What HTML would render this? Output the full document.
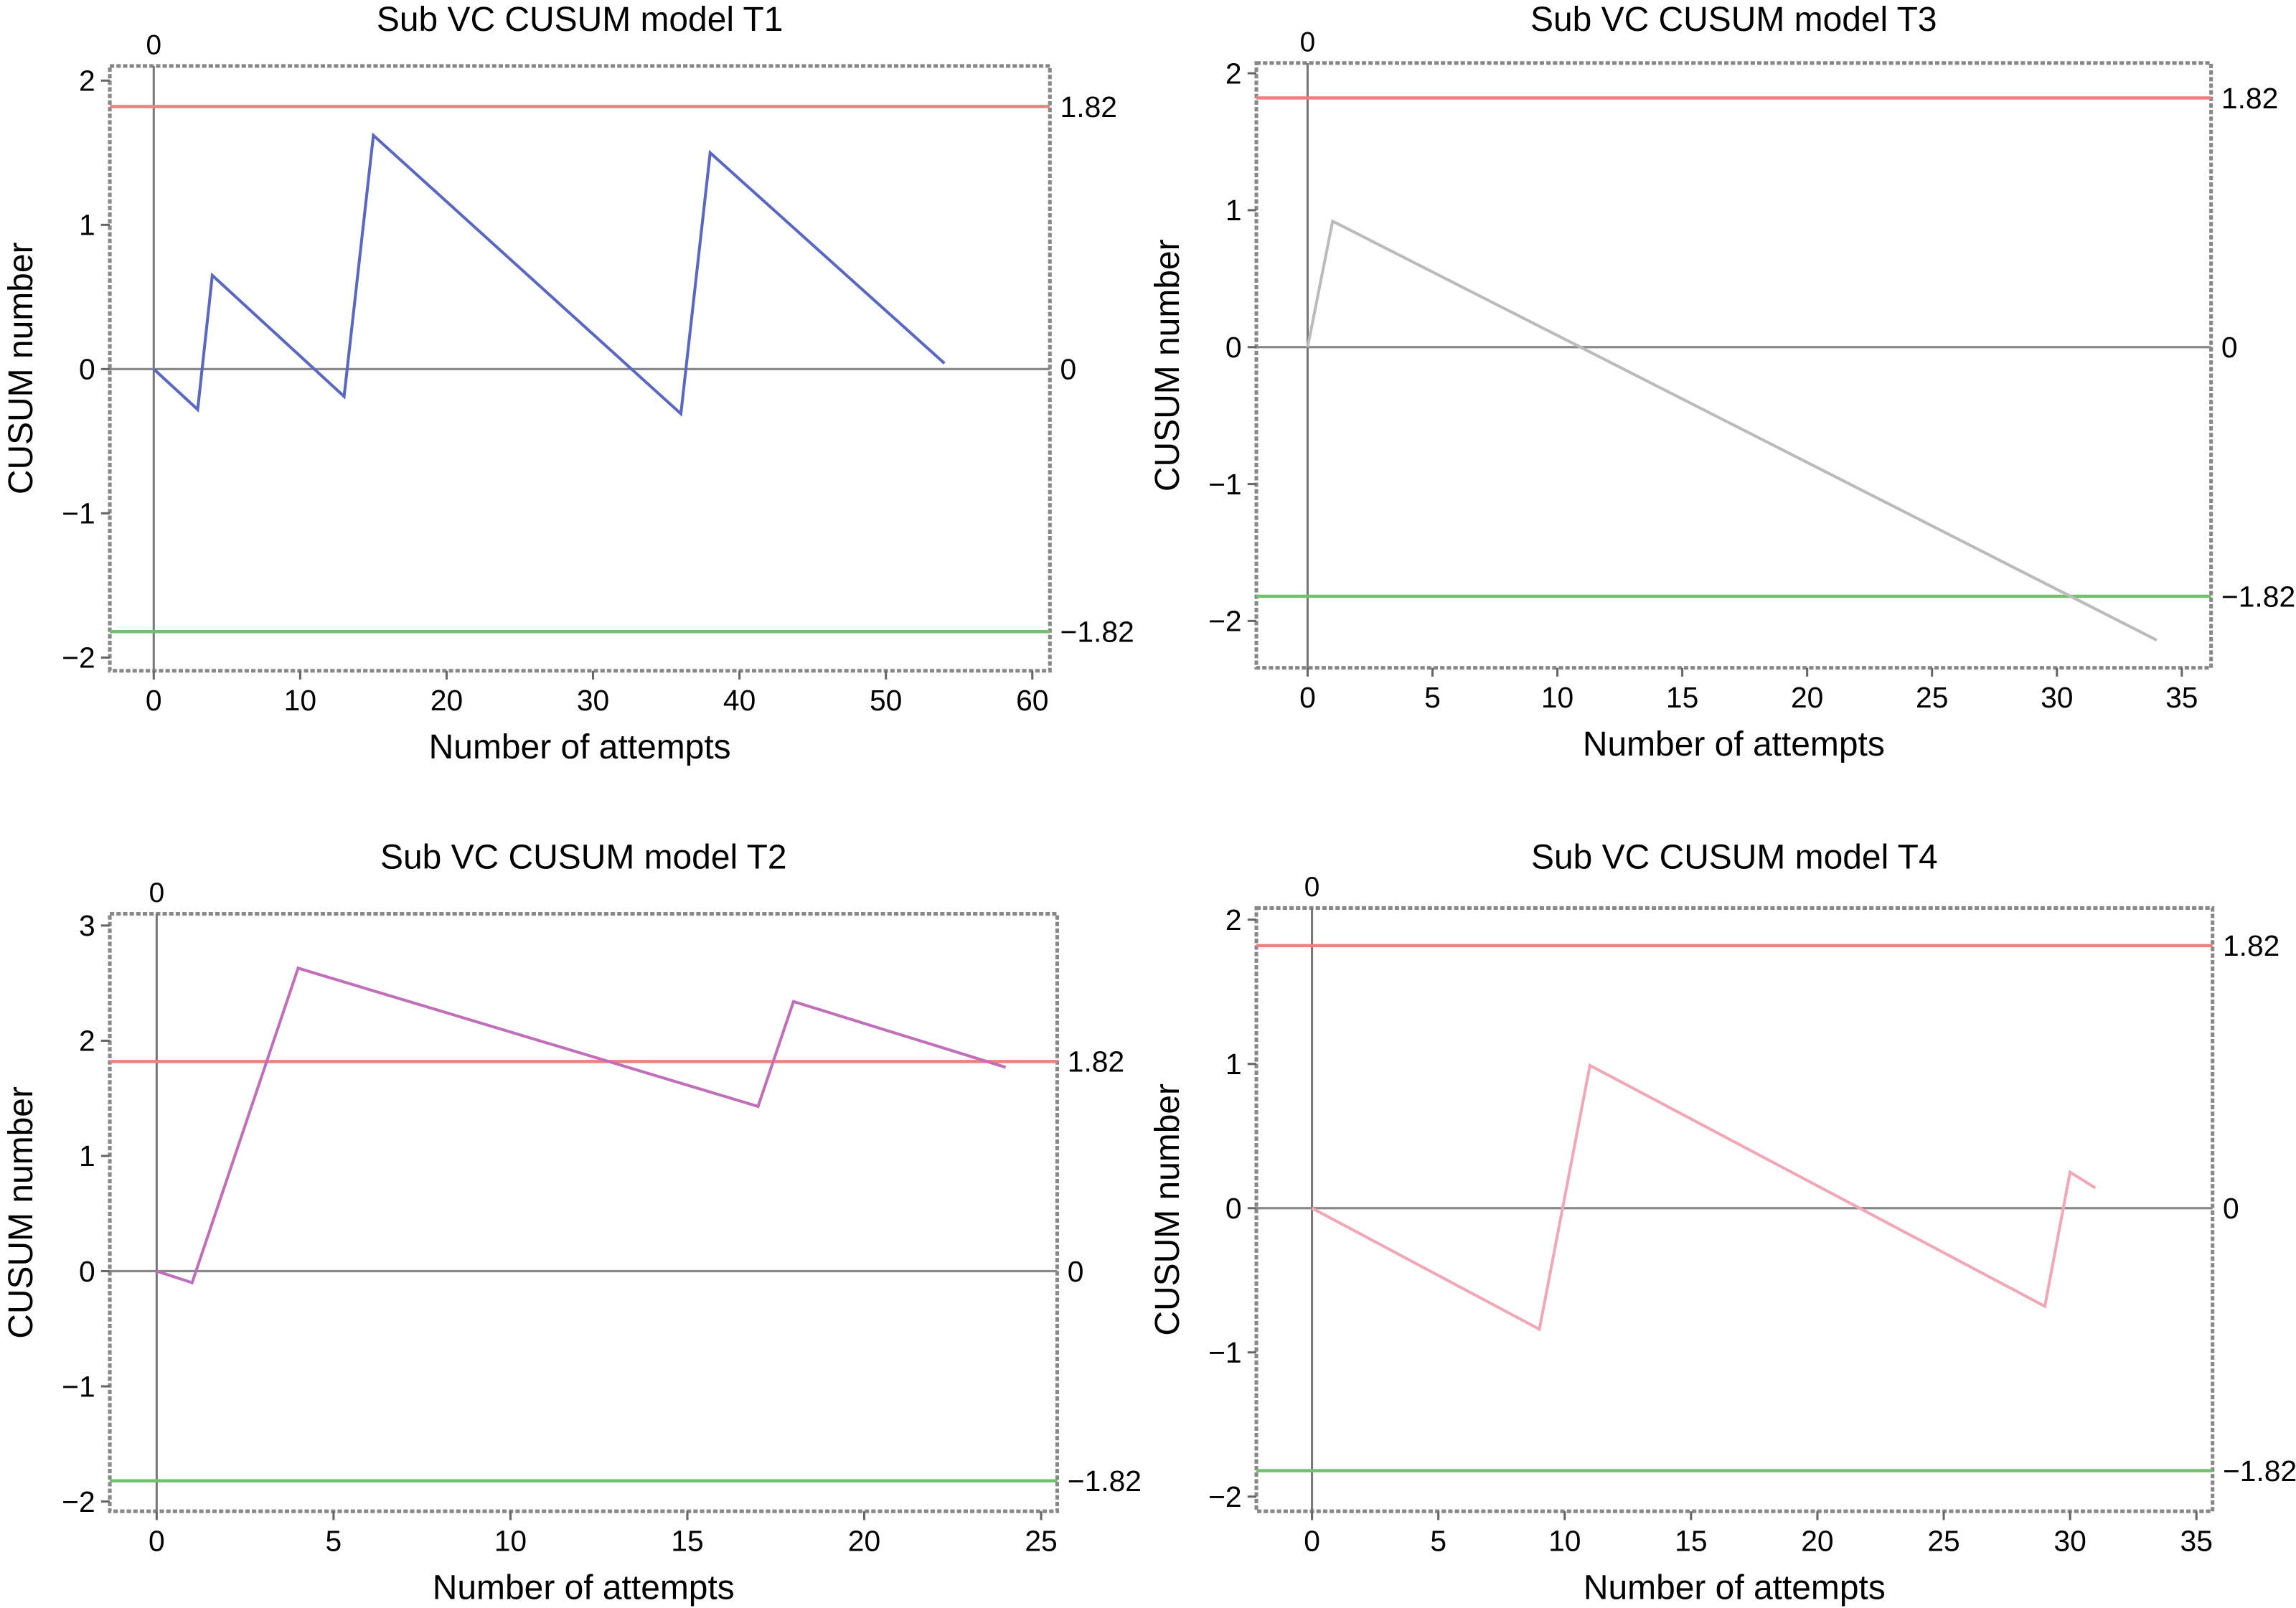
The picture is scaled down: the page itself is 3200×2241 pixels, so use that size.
<!DOCTYPE html>
<html><head><meta charset="utf-8"><style>
html,body{margin:0;padding:0;background:#fff;}
svg{display:block;}
text{font-family:"Liberation Sans",sans-serif;fill:#000;}
</style></head><body>
<svg id="root" width="3200" height="2241" viewBox="0 0 1568 1098" xmlns="http://www.w3.org/2000/svg"></svg>
<script>
// T1 data
const t1X = [0, 3, 4, 13, 15, 36, 38, 54];
const t1Y = [0, -0.28, 0.65, -0.19, 1.62, -0.31, 1.5, 0.04];
const t1XTicks = [0, 10, 20, 30, 40, 50, 60];
const t1YTicks = [-2, -1, 0, 1, 2];
// T3 data
const t3X = [0, 1, 34];
const t3Y = [0, 0.92, -2.14];
const t3XTicks = [0, 5, 10, 15, 20, 25, 30, 35];
const t3YTicks = [-2, -1, 0, 1, 2];
// T2 data
const t2X = [0, 1, 4, 17, 18, 24];
const t2Y = [0, -0.1, 2.63, 1.43, 2.34, 1.77];
const t2XTicks = [0, 5, 10, 15, 20, 25];
const t2YTicks = [-2, -1, 0, 1, 2, 3];
// T4 data
const t4X = [0, 9, 11, 29, 30, 31];
const t4Y = [0, -0.84, 0.99, -0.68, 0.25, 0.14];
const t4XTicks = [0, 5, 10, 15, 20, 25, 30, 35];
const t4YTicks = [-2, -1, 0, 1, 2];
const limitValues = [1.82, 0, -1.82];
const limitLabels = ["1.82", "0", "\u22121.82"];

const NS = "http://www.w3.org/2000/svg";
const root = document.getElementById('root');
function mk(tag, attrs, parent, txt) {
  const e = document.createElementNS(NS, tag);
  for (const k in attrs) e.setAttribute(k, attrs[k]);
  if (txt !== undefined) e.textContent = txt;
  parent.appendChild(e);
  return e;
}
function fmt(v){ return v < 0 ? "\u2212" + Math.abs(v) : String(v); }

function panel(cfg) {
  const g = mk('g', {}, root);
  
  
  const sx = v => cfg.x0 + (v - cfg.xa) / (cfg.xb - cfg.xa) * (cfg.x1 - cfg.x0);
  const sy = v => cfg.y0 + (v - cfg.ya) / (cfg.yb - cfg.ya) * (cfg.y1 - cfg.y0);
  const B = cfg.box;
  const frame = mk('rect', {x: B[0], y: B[1], width: B[2]-B[0], height: B[3]-B[1], fill: 'none', stroke: '#888', 'stroke-width': 2.5, 'stroke-dasharray': '3 1.5'}, g);
  
  
  const title = mk('text', {x: (B[0]+B[2])/2, y: cfg.ty, 'text-anchor': 'middle', 'font-size': 23.5}, g, cfg.title);
  
  
  const zl = mk('text', {x: sx(0), y: B[1]-8, 'text-anchor': 'middle', 'font-size': 19}, g, '0');
  
  
  const vz = mk('line', {x1: sx(0), x2: sx(0), y1: B[1], y2: B[3], stroke: '#777', 'stroke-width': 1.5}, g);
  
  
  const cols = ['#f08080', '#888', '#70c070'];
  limitValues.forEach((v, i) => {
    const l = mk('line', {x1: B[0], x2: B[2], y1: sy(v), y2: sy(v), stroke: cols[i], 'stroke-width': i===1?1.6:2.2}, g);
    
    
    const t = mk('text', {x: B[2]+7, y: sy(v)+7, 'font-size': 20}, g, limitLabels[i]);
    
    
  });
  cfg.xt.forEach(v => {
    const tk = mk('line', {x1: sx(v), x2: sx(v), y1: B[3], y2: B[3]+6, stroke: '#666', 'stroke-width': 1.5}, g);
    
    
    const t = mk('text', {x: sx(v), y: B[3]+27, 'text-anchor': 'middle', 'font-size': 20}, g, String(v));
    
    
  });
  cfg.yt.forEach(v => {
    const tk = mk('line', {x1: B[0]-6, x2: B[0], y1: sy(v), y2: sy(v), stroke: '#666', 'stroke-width': 1.5}, g);
    
    
    const t = mk('text', {x: B[0]-10, y: sy(v)+7, 'text-anchor': 'end', 'font-size': 20}, g, fmt(v));
    
    
  });
  const xt = mk('text', {x: (B[0]+B[2])/2, y: B[3]+60, 'text-anchor': 'middle', 'font-size': 23.5}, g, 'Number of attempts');
  
  
  const cy = (B[1]+B[3])/2;
  const yt = mk('text', {x: 0, y: 0, 'text-anchor': 'middle', 'font-size': 23.5, transform: `translate(${B[0]-53},${cy}) rotate(-90)`}, g, 'CUSUM number');
  
  
  const pts = cfg.dx.map((v, i) => sx(v).toFixed(1) + ',' + sy(cfg.dy[i]).toFixed(1)).join(' ');
  const pl = mk('polyline', {points: pts, fill: 'none', stroke: cfg.color, 'stroke-width': 2}, g);
  
  
}

panel({name: 'panel-t1', title: 'Sub VC CUSUM model T1', ty: 21, box: [75, 45, 717, 458],
  x0: 105, x1: 705, xa: 0, xb: 60, y0: 252, y1: 55, ya: 0, yb: 2,
  xt: t1XTicks, yt: t1YTicks, dx: t1X, dy: t1Y, color: '#5a68c0'});
panel({name: 'panel-t3', title: 'Sub VC CUSUM model T3', ty: 21, box: [858, 43, 1510, 456],
  x0: 893, x1: 1490, xa: 0, xb: 35, y0: 237, y1: 50, ya: 0, yb: 2,
  xt: t3XTicks, yt: t3YTicks, dx: t3X, dy: t3Y, color: '#bbbbbb'});
panel({name: 'panel-t2', title: 'Sub VC CUSUM model T2', ty: 593, box: [75, 624, 722, 1032],
  x0: 107, x1: 711, xa: 0, xb: 25, y0: 868, y1: 632, ya: 0, yb: 3,
  xt: t2XTicks, yt: t2YTicks, dx: t2X, dy: t2Y, color: '#c070b8'});
panel({name: 'panel-t4', title: 'Sub VC CUSUM model T4', ty: 593, box: [858, 620, 1511, 1032],
  x0: 896, x1: 1500, xa: 0, xb: 35, y0: 825, y1: 628, ya: 0, yb: 2,
  xt: t4XTicks, yt: t4YTicks, dx: t4X, dy: t4Y, color: '#f0a8b8'});
</script>
</body></html>
